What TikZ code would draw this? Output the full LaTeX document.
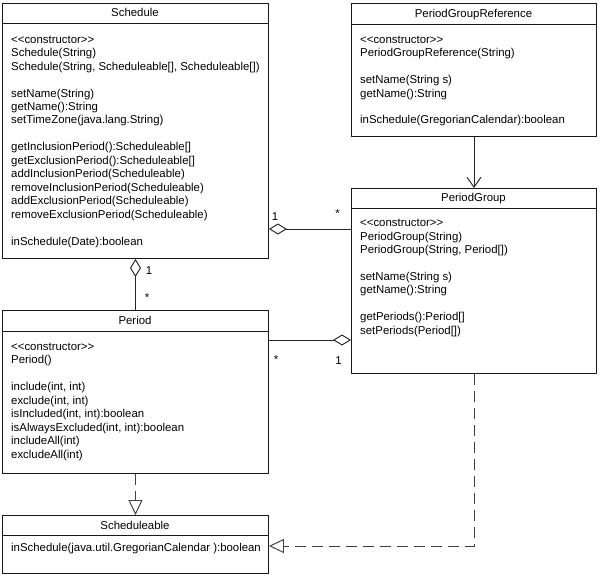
\documentclass[tikz,border=0pt]{standalone}
\usepackage{fontspec}
\newfontfamily\umlfont{Liberation Sans}
\usetikzlibrary{arrows.meta}
\begin{document}
\begin{tikzpicture}[x=1pt,y=-1pt,
  box/.style={draw=black!90, line width=0.95pt, inner sep=0pt, anchor=north west, fill=white},
  sep/.style={draw=black!90, line width=0.95pt},
  txt/.style={anchor=base west, inner sep=0pt, font=\umlfont\fontsize{11.4}{13}\selectfont},
  ttl/.style={anchor=base, inner sep=0pt, font=\umlfont\fontsize{11.4}{13}\selectfont},
  conn/.style={draw=black!85, line width=0.95pt},
  dashconn/.style={draw=black!75, line width=0.95pt, dash pattern=on 11pt off 6pt},
  aggr/.tip={Diamond[length=18pt, width=11pt, fill=white, line width=0.95pt]},
  real/.tip={Triangle[length=15pt, width=14pt, fill=white, line width=0.95pt]},
  nav/.tip={Straight Barb[length=10pt, width=14pt, line width=0.95pt]}
]
\newcommand\ml[4]{\node[txt] (#1) at (#2,#3+4) {#4};}
\useasboundingbox[fill=white] (0,0) rectangle (600,575);

% boxes
\node[box, minimum width=266pt, minimum height=255pt] (sched) at (2,3) {};
\node[box, minimum width=245pt, minimum height=133pt] (pgr) at (351,3) {};
\node[box, minimum width=245pt, minimum height=185pt] (pg) at (351,188) {};
\node[box, minimum width=266pt, minimum height=163pt] (per) at (2,310) {};
\node[box, minimum width=266pt, minimum height=58pt] (sa) at (2,515) {};

% separators
\draw[sep] ([yshift=-20pt]sched.north west) -- ([yshift=-20pt]sched.north east);
\draw[sep] ([yshift=-21pt]pgr.north west) -- ([yshift=-21pt]pgr.north east);
\draw[sep] ([yshift=-20pt]pg.north west) -- ([yshift=-20pt]pg.north east);
\draw[sep] ([yshift=-21pt]per.north west) -- ([yshift=-21pt]per.north east);
\draw[sep] ([yshift=-20pt]sa.north west) -- ([yshift=-20pt]sa.north east);

% titles
\node[ttl] (t1) at (135,13+4) {Schedule};
\node[ttl] (t2) at (473.5,13.5+4) {PeriodGroupReference};
\node[ttl] (t3) at (473.5,197.5+4) {PeriodGroup};
\node[ttl] (t4) at (135,320.5+4) {Period};
\node[ttl] (t5) at (135,525+4) {Scheduleable};

% Schedule
\ml{s0}{11}{39.3}{<<constructor>>}
\ml{s1}{11}{52.75}{Schedule(String)}
\ml{s2}{11}{66.2}{Schedule(String, Scheduleable[], Scheduleable[])}
\ml{s4}{11}{93.1}{setName(String)}
\ml{s5}{11}{106.55}{getName():String}
\ml{s6}{11}{120}{setTimeZone(java.lang.String)}
\ml{s8}{11}{146.9}{getInclusionPeriod():Scheduleable[]}
\ml{s9}{11}{160.35}{getExclusionPeriod():Scheduleable[]}
\ml{s10}{11}{173.8}{addInclusionPeriod(Scheduleable)}
\ml{s11}{11}{187.25}{removeInclusionPeriod(Scheduleable)}
\ml{s12}{11}{200.7}{addExclusionPeriod(Scheduleable)}
\ml{s13}{11}{214.15}{removeExclusionPeriod(Scheduleable)}
\ml{s15}{11}{241.05}{inSchedule(Date):boolean}

% PeriodGroupReference
\ml{r0}{360}{39.3}{<<constructor>>}
\ml{r1}{360}{52.75}{PeriodGroupReference(String)}
\ml{r3}{360}{79.65}{setName(String s)}
\ml{r4}{360}{93.1}{getName():String}
\ml{r6}{360}{120}{inSchedule(GregorianCalendar):boolean}

% PeriodGroup
\ml{g0}{360}{222.7}{<<constructor>>}
\ml{g1}{360}{236.15}{PeriodGroup(String)}
\ml{g2}{360}{249.6}{PeriodGroup(String, Period[])}
\ml{g4}{360}{276.5}{setName(String s)}
\ml{g5}{360}{289.95}{getName():String}
\ml{g7}{360}{316.85}{getPeriods():Period[]}
\ml{g8}{360}{330.3}{setPeriods(Period[])}

% Period
\ml{p0}{11}{346.5}{<<constructor>>}
\ml{p1}{11}{359.95}{Period()}
\ml{p3}{11}{386.85}{include(int, int)}
\ml{p4}{11}{400.3}{exclude(int, int)}
\ml{p5}{11}{413.75}{isIncluded(int, int):boolean}
\ml{p6}{11}{427.2}{isAlwaysExcluded(int, int):boolean}
\ml{p7}{11}{440.65}{includeAll(int)}
\ml{p8}{11}{454.1}{excludeAll(int)}

% Scheduleable
\ml{a0}{11}{547}{inSchedule(java.util.GregorianCalendar ):boolean}

% helper coordinates
\coordinate (y1) at (0,229);
\coordinate (y2) at (0,340);
\coordinate (y3) at (0,546);

% connectors
\draw[conn, {aggr}-] (sched.east |- y1) -- (pg.west |- y1);
\draw[conn, {aggr}-] (sched.south) -- (per.north);
\draw[conn, -{aggr}] (per.east |- y2) -- (pg.west |- y2);
\draw[conn, -{nav}] (pgr.south) -- (pg.north);
\draw[dashconn, -{real}] (per.south) -- (sa.north);
\draw[dashconn, -{real}] (pg.south) |- (sa.east |- y3);

% multiplicities
\node[ttl] (m1) at (275,216+4) {1};
\node[ttl] (m2) at (337.5,213+5) {*};
\node[ttl] (m3) at (149,270+4) {1};
\node[ttl] (m4) at (147,296+5) {*};
\node[ttl] (m5) at (276,358+5) {*};
\node[ttl] (m6) at (338.5,360+4) {1};
\end{tikzpicture}
\end{document}
